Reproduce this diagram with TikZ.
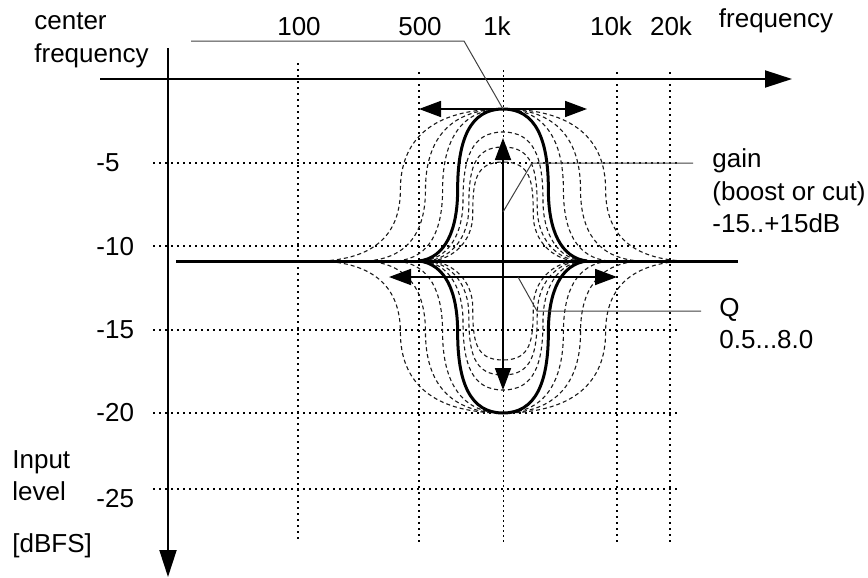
\documentclass[tikz,border=0pt]{standalone}
\usepackage{fontspec}
\setmainfont{Liberation Sans}
\usetikzlibrary{arrows.meta}
\newcommand\mybell[4]{% #1 style, #2 half width, #3 height (+ up), #4 steepness
\draw[#1] ({503-#2},261) .. controls ({503-0.69*#2},{261-0.02*#3}) and ({503-#4*#2},{261-0.2*#3}) .. ({503-#4*#2},{261-0.47*#3})
 .. controls ({503-#4*#2},{261-0.8*#3}) and ({503-0.39*#2},{261-#3}) .. (503,{261-#3})
 .. controls ({503+0.39*#2},{261-#3}) and ({503+#4*#2},{261-0.8*#3}) .. ({503+#4*#2},{261-0.47*#3})
 .. controls ({503+#4*#2},{261-0.2*#3}) and ({503+0.69*#2},{261-0.02*#3}) .. ({503+#2},261);}
\begin{document}
\begin{tikzpicture}[x=0.5pt,y=-0.5pt,
  font=\fontsize{13}{16}\selectfont,
  grid/.style={line width=1pt, dash pattern=on 1pt off 2pt},
  finegrid/.style={line width=0.5pt, dash pattern=on 1pt off 1.5pt},
  axis/.style={line width=1pt, -{Triangle[length=13.5pt,width=8.5pt]}},
  dim/.style={line width=0.9pt, {Triangle[length=11pt,width=8pt]}-{Triangle[length=11pt,width=8pt]}},
  leader/.style={line width=0.5pt, black!75},
  dcurve/.style={line width=0.55pt, black!90, dash pattern=on 2pt off 1.5pt},
  tcurve/.style={line width=1.5pt},
  lbl/.style={anchor=base west, inner sep=0pt},
  tick/.style={anchor=base, inner sep=0pt}]
\useasboundingbox (0,0) rectangle (868,578);

% grid
\foreach \y in {163,246,330,413,489} \draw[grid] (153,\y) -- (678,\y);
\draw[grid] (298,63) -- (298,542);
\foreach \x in {419,617,670} \draw[grid] (\x,72) -- (\x,542);
\draw[finegrid] (503,70) -- (503,542);

% axes
\coordinate (xs) at (100,79);
\coordinate (xe) at (792,79);
\coordinate (ys) at (168,48);
\coordinate (ye) at (168,577);
\draw[axis] (xs) -- (xe);
\draw[axis] (ys) -- (ye);

% dashed family
\foreach \s in {1,-1}{
  \mybell{dcurve}{180}{152*\s}{0.57}
  \mybell{dcurve}{136}{152*\s}{0.57}
  \mybell{dcurve}{106}{152*\s}{0.57}
  \mybell{dcurve}{80}{129*\s}{0.5}
  \mybell{dcurve}{76}{114*\s}{0.45}
  \mybell{dcurve}{72}{99*\s}{0.42}
}

% thick curves and flat response
\coordinate (fl) at (176,261);
\coordinate (fr) at (738,261);
\draw[tcurve] (fl) -- (fr);
\mybell{tcurve}{84}{152}{0.54}
\mybell{tcurve}{84}{-152}{0.54}

% dimension arrows
\coordinate (q1l) at (419,109);
\coordinate (q1r) at (587,109);
\coordinate (q2l) at (389,277);
\coordinate (q2r) at (617,277);
\coordinate (gt) at (503,138);
\coordinate (gb) at (503,390);
\draw[dim] (q1l) -- (q1r);
\draw[dim] (q2l) -- (q2r);
\draw[dim] (gt) -- (gb);

% leader lines
\coordinate (cf0) at (191,41);
\coordinate (cf1) at (464,41);
\coordinate (peak) at (503,109);
\draw[leader] (cf0) -- (cf1) -- (peak);
\coordinate (g0) at (503,212);
\coordinate (g1) at (532,163);
\coordinate (g2) at (693,163);
\draw[leader] (g0) -- (g1) -- (g2);
\coordinate (qa) at (518,277);
\coordinate (qb) at (537,311);
\coordinate (qc) at (701,311);
\draw[leader] (qa) -- (qb) -- (qc);

% texts
\node[lbl] (tc1) at (34,30) {center};
\node[lbl] (tc2) at (34,62) {frequency};
\node[tick] (t100) at (299,35) {100};
\node[tick] (t500) at (420,35) {500};
\node[tick] (t1k) at (497,35) {1k};
\node[tick] (t10k) at (611,35) {10k};
\node[tick] (t20k) at (671,35) {20k};
\node[tick] (tfreq) at (776,27) {frequency};
\node[lbl] (l5) at (96,171) {-5};
\node[lbl] (l10) at (96,255) {-10};
\node[lbl] (l15) at (96,338) {-15};
\node[lbl] (l20) at (96,421) {-20};
\node[lbl] (l25) at (96,507) {-25};
\node[lbl] (in1) at (12,468) {Input};
\node[lbl] (in2) at (12,500) {level};
\node[lbl] (in3) at (12,552) {[dBFS]};
\node[lbl] (ga1) at (712,167) {gain};
\node[lbl] (ga2) at (712,200) {(boost or cut)};
\node[lbl] (ga3) at (712,232) {-15..+15dB};
\node[lbl] (qq1) at (719,316) {Q};
\node[lbl] (qq2) at (719,348) {0.5...8.0};
\end{tikzpicture}
\end{document}
